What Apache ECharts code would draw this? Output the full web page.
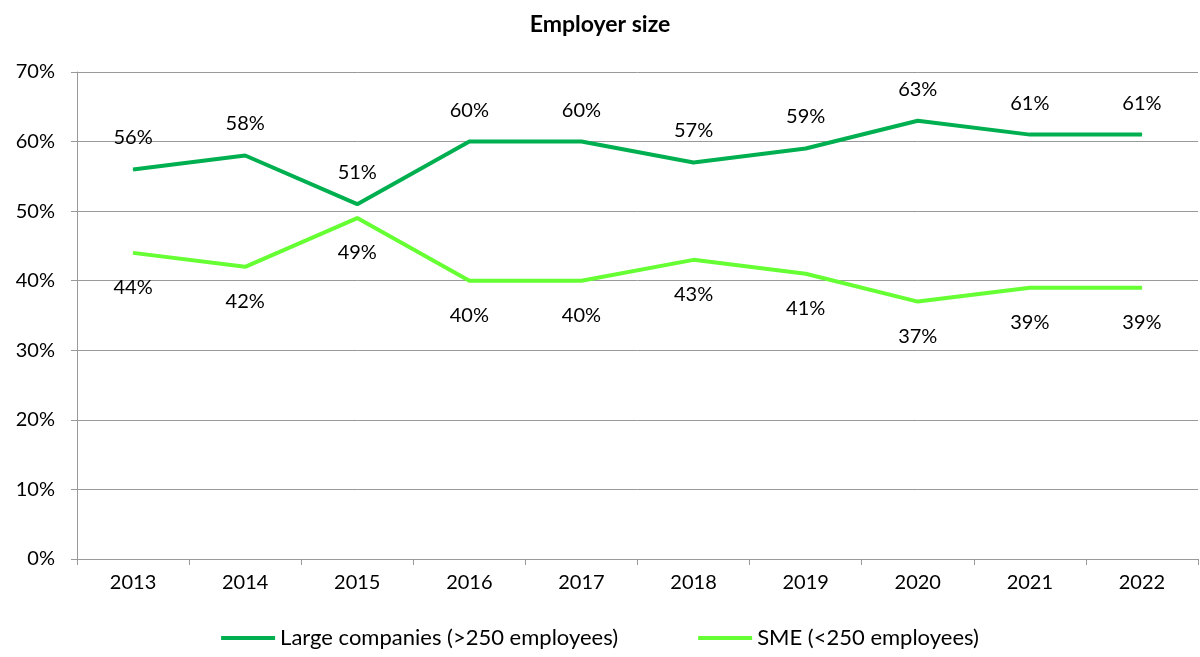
<!DOCTYPE html>
<html>
<head>
<meta charset="utf-8">
<script src="https://cdn.jsdelivr.net/npm/echarts@6/dist/echarts.min.js"></script>
<style>
  html, body { margin: 0; padding: 0; background: #fff; }
  #chart { width: 1200px; height: 657px; }
</style>
</head>
<body>
<div id="chart"></div>
<script>
// Share of respondents by employer size, 2013–2022
const years = ['2013', '2014', '2015', '2016', '2017', '2018', '2019', '2020', '2021', '2022'];
const largeCompanies = [56, 58, 51, 60, 60, 57, 59, 63, 61, 61];
const sme = [44, 42, 49, 40, 40, 43, 41, 37, 39, 39];
const yTicks = [0, 10, 20, 30, 40, 50, 60, 70];

const FONT = 'Lato, "Open Sans", sans-serif';
const DARK = '#00b050';
const LIGHT = '#66ff33';
const chart = echarts.init(document.getElementById('chart'));

// Tiny point markers in the line colour (hidden under the stroke) carry the value labels
function lineSeries(name, data, color, labelPos, labelDist) {
  return {
    name: name,
    type: 'line',
    data: data,
    color: color,
    symbol: 'circle',
    symbolSize: 1,
    showSymbol: true,
    itemStyle: { color: color },
    lineStyle: { width: 4, color: color },
    label: {
      show: true,
      position: labelPos,
      distance: labelDist,
      fontSize: 20,
      color: '#000',
      formatter: p => p.value + '%'
    }
  };
}

chart.setOption({
  animation: false,
  textStyle: { fontFamily: FONT },
  title: {
    text: 'Employer size',
    left: 'center',
    top: 8,
    textStyle: { fontFamily: FONT, fontSize: 23, fontWeight: 'bold', color: '#000' }
  },
  legend: {
    bottom: 3,
    left: 'center',
    itemWidth: 54,
    itemHeight: 4,
    itemGap: 80,
    icon: 'rect',
    textStyle: { fontFamily: FONT, fontSize: 22, color: '#000' },
    data: ['Large companies (>250 employees)', 'SME (<250 employees)']
  },
  grid: { left: 77, right: 2, top: 72, bottom: 98 },
  xAxis: {
    type: 'category',
    data: years,
    boundaryGap: true,
    axisLine: { lineStyle: { color: '#999', width: 1 } },
    axisTick: { show: true, length: 6, lineStyle: { color: '#999' } },
    axisLabel: { fontSize: 20, color: '#000', margin: 14 }
  },
  yAxis: {
    type: 'value',
    min: yTicks[0],
    max: yTicks[yTicks.length - 1],
    interval: 10,
    axisLine: { show: true, lineStyle: { color: '#999', width: 1 } },
    axisTick: { show: true, length: 6, lineStyle: { color: '#999' } },
    splitLine: { lineStyle: { color: '#999', width: 1 } },
    axisLabel: { fontSize: 20, color: '#000', margin: 22, formatter: v => v + '%' }
  },
  series: [
    lineSeries('Large companies (>250 employees)', largeCompanies, DARK, 'top', 21),
    lineSeries('SME (<250 employees)', sme, LIGHT, 'bottom', 24)
  ]
});
</script>
</body>
</html>
